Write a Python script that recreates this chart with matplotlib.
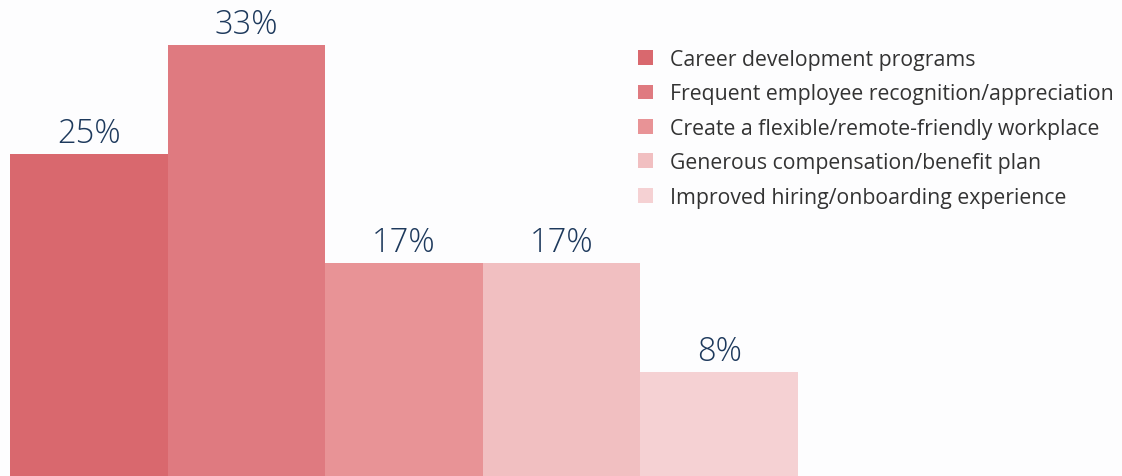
import matplotlib
matplotlib.use("Agg")
import matplotlib.pyplot as plt

categories = ["Career development programs",
              "Frequent employee recognition/appreciation",
              "Create a flexible/remote-friendly workplace",
              "Generous compensation/benefit plan",
              "Improved hiring/onboarding experience"]
values = [25.0, 33.33, 16.67, 16.67, 8.33]
labels = ["25%", "33%", "17%", "17%", "8%"]
colors = ["#d9686e", "#df7a80", "#e89396", "#f1bfc1", "#f5d1d3"]

W, H = 1122, 477
fig = plt.figure(figsize=(W / 100, H / 100), dpi=100)
fig.patch.set_facecolor("#fdfdfe")

ax = fig.add_axes([10 / W, -5 / H, 788 / W, 471 / H])
ax.set_facecolor("none")
x = list(range(len(values)))
bars = ax.bar(x, values, width=1.0, color=colors, edgecolor="none")
ax.set_xlim(-0.5, len(values) - 0.5)
ax.set_ylim(0, 36)
ax.axis("off")

for xi, v, lab in zip(x, values, labels):
    ax.annotate(lab, (xi, v), xytext=(0, 3), textcoords="offset points",
                ha="center", va="bottom", fontsize=23.5, color="#1d395c",
                family="Open Sans", fontweight="light")

leg = fig.legend(bars, categories, loc="upper left",
                 bbox_to_anchor=(638 / W, 1 - 50 / H),
                 frameon=False, prop={"family": "Open Sans", "size": 15.3},
                 handlelength=0.7, handleheight=0.7, handletextpad=0.8,
                 labelspacing=0.63, borderaxespad=0, borderpad=0)
for t in leg.get_texts():
    t.set_color("#333333")

fig.savefig("out.png", dpi=100, facecolor=fig.get_facecolor())
